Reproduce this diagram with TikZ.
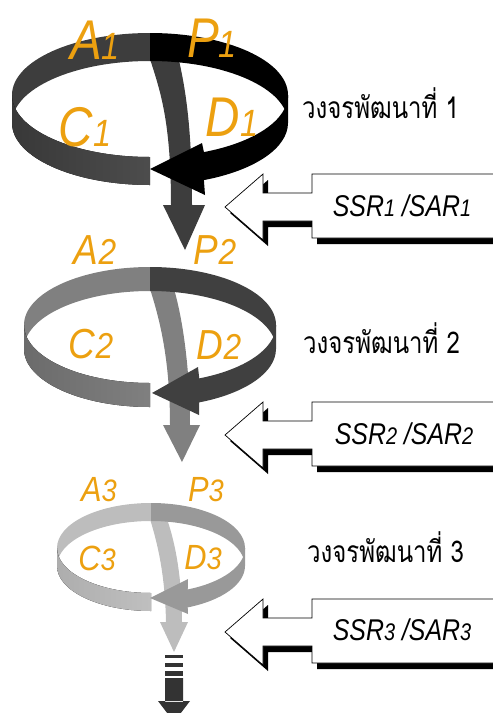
\documentclass[tikz,border=0pt]{standalone}
\usepackage{fontspec}
\setmainfont{Liberation Sans}
\newfontfamily\thaifont[Script=Thai]{Loma}
\usepackage{tikz}

\definecolor{lblorange}{RGB}{236,160,16}

\begin{document}
\begin{tikzpicture}[x=1pt,y=-1pt,
		lbl1/.style={text=lblorange,inner sep=0pt,xscale=0.85,font=\itshape\fontsize{56}{56}\selectfont},
		lbl2/.style={text=lblorange,inner sep=0pt,xscale=0.88,font=\itshape\fontsize{42}{42}\selectfont},
		lbl3/.style={text=lblorange,inner sep=0pt,xscale=0.88,font=\itshape\fontsize{35}{35}\selectfont},
		cyc/.style={anchor=base west,inner sep=0pt,xscale=0.8,font=\thaifont\fontsize{30}{30}\selectfont},
		ssr/.style={inner sep=0pt,xscale=0.83,font=\itshape\fontsize{30}{30}\selectfont},
		ssrarrow/.pic={
			\fill[black,shift={(5,6)}] (225,0) -- (263,-33) -- (263,-14) -- (312,-14) -- (312,-33) -- (505,-33)
				-- (505,31) -- (312,31) -- (312,14) -- (263,14) -- (263,33) -- cycle;
			\draw[black,line width=0.7pt,fill=white] (225,0) -- (263,-33) -- (263,-14) -- (312,-14) -- (312,-33) -- (505,-33)
				-- (505,31) -- (312,31) -- (312,14) -- (263,14) -- (263,33) -- cycle;
		}]
	\useasboundingbox (0,0) rectangle (493,713);
	\clip (0,0) rectangle (493,713);

	%% cycle 1
	\fill[black!76] (149,56) .. controls (160,90) and (171,120) .. (171,205) -- (163,205) -- (185,250)
		-- (205,205) -- (192,205) .. controls (192,130) and (186,90) .. (178,56) -- cycle;
	\fill[black!76] (12,95) arc[start angle=180,end angle=270,x radius=138,y radius=62] -- ++(0,28)
		arc[start angle=270,end angle=180,x radius=138,y radius=62] -- cycle;
	\fill[black] (150,33) arc[start angle=270,end angle=360,x radius=138,y radius=62] -- ++(0,28)
		arc[start angle=360,end angle=270,x radius=138,y radius=62] -- cycle;
	\fill[left color=black!78,middle color=black!48,right color=black!70] (150,157)
		arc[start angle=90,end angle=180,x radius=138,y radius=62] -- ++(0,28)
		arc[start angle=180,end angle=90,x radius=138,y radius=62] -- cycle;
	\fill[black] (288,95) arc[start angle=0,end angle=67,x radius=138,y radius=62] -- (202,143) -- (150,169)
		-- (205,195) -- (203.9,180.1) arc[start angle=67,end angle=0,x radius=138,y radius=62] -- cycle;
	\node[lbl1] (a1) at (95,40) {A{\fontsize{38}{38}\selectfont 1}};
	\node[lbl1] (p1) at (212,38) {P{\fontsize{38}{38}\selectfont 1}};
	\node[lbl1] (c1) at (85,127) {C{\fontsize{38}{38}\selectfont 1}};
	\node[lbl1] (d1) at (232,117) {D{\fontsize{38}{38}\selectfont 1}};
	\node[cyc] (cyc1) at (302,118) {วงจรพัฒนาที่ 1};

	%% cycle 2
	\fill[black!50] (150,289) .. controls (160,320) and (170,360) .. (170,425) -- (163,425) -- (182,462)
		-- (200,425) -- (190,425) .. controls (190,370) and (183,320) .. (174,289) -- cycle;
	\fill[black!50] (24,325) arc[start angle=180,end angle=270,x radius=126,y radius=58] -- ++(0,24)
		arc[start angle=270,end angle=180,x radius=126,y radius=58] -- cycle;
	\fill[black!75] (150,267) arc[start angle=270,end angle=360,x radius=126,y radius=58] -- ++(0,24)
		arc[start angle=360,end angle=270,x radius=126,y radius=58] -- cycle;
	\fill[left color=black!58,middle color=black!30,right color=black!50] (150,383)
		arc[start angle=90,end angle=180,x radius=126,y radius=58] -- ++(0,24)
		arc[start angle=180,end angle=90,x radius=126,y radius=58] -- cycle;
	\fill[black!75] (276,325) arc[start angle=0,end angle=67,x radius=126,y radius=58] -- (198,367) -- (152,393)
		-- (199,415) -- (199.2,402.4) arc[start angle=67,end angle=0,x radius=126,y radius=58] -- cycle;
	\node[lbl2] (a2) at (95,250) {A{\fontsize{36}{36}\selectfont 2}};
	\node[lbl2] (p2) at (215,250) {P{\fontsize{36}{36}\selectfont 2}};
	\node[lbl2] (c2) at (91,344) {C{\fontsize{36}{36}\selectfont 2}};
	\node[lbl2] (d2) at (219,345) {D{\fontsize{36}{36}\selectfont 2}};
	\node[cyc] (cyc2) at (303,353) {วงจรพัฒนาที่ 2};

	%% cycle 3
	\fill[black!26] (150,519) .. controls (158,545) and (165,575) .. (166,622) -- (160,622) -- (174,652)
		-- (188,622) -- (182,622) .. controls (182,580) and (176,545) .. (167,519) -- cycle;
	\fill[black!26] (57,548) arc[start angle=180,end angle=270,x radius=94,y radius=45] -- ++(0,18)
		arc[start angle=270,end angle=180,x radius=94,y radius=45] -- cycle;
	\fill[black!40] (151,503) arc[start angle=270,end angle=360,x radius=94,y radius=45] -- ++(0,18)
		arc[start angle=360,end angle=270,x radius=94,y radius=45] -- cycle;
	\fill[left color=black!32,middle color=black!13,right color=black!25] (151,593)
		arc[start angle=90,end angle=180,x radius=94,y radius=45] -- ++(0,18)
		arc[start angle=180,end angle=90,x radius=94,y radius=45] -- cycle;
	\fill[black!40] (245,548) arc[start angle=0,end angle=67,x radius=94,y radius=45] -- (188,579) -- (150,598)
		-- (188,614) -- (187.7,607.4) arc[start angle=67,end angle=0,x radius=94,y radius=45] -- cycle;
	\node[lbl3] (a3) at (99,490) {A{\fontsize{31}{31}\selectfont 3}};
	\node[lbl3] (p3) at (206,490) {P{\fontsize{31}{31}\selectfont 3}};
	\node[lbl3] (c3) at (97,558) {C{\fontsize{31}{31}\selectfont 3}};
	\node[lbl3] (d3) at (203,558) {D{\fontsize{31}{31}\selectfont 3}};
	\node[cyc] (cyc3) at (307,562) {วงจรพัฒนาที่ 3};

	%% SSR / SAR
	\pic at (0,207) {ssrarrow};
	\pic at (0,435) {ssrarrow};
	\pic at (0,632) {ssrarrow};
	\node[ssr] (ssr1) at (402,206) {SSR{\fontsize{24}{24}\selectfont 1} /SAR{\fontsize{24}{24}\selectfont 1}};
	\node[ssr] (ssr2) at (404,434) {SSR{\fontsize{24}{24}\selectfont 2} /SAR{\fontsize{24}{24}\selectfont 2}};
	\node[ssr] (ssr3) at (402,630) {SSR{\fontsize{24}{24}\selectfont 3} /SAR{\fontsize{24}{24}\selectfont 3}};

	%% next cycles
	\fill[black!80] (165,655) rectangle (183,658);
	\fill[black!80] (165,663) rectangle (183,667);
	\fill[black!80] (165,671) rectangle (183,676);
	\fill[black!80] (165,678) rectangle (183,702) (158,701) -- (190,701) -- (174,722) -- cycle;
\end{tikzpicture}
\end{document}
